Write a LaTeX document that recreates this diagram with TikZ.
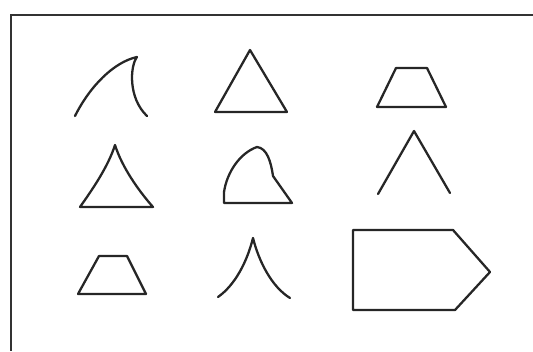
\documentclass[tikz,border=0pt]{standalone}
\usepackage{xcolor}
\usepackage{tikz}

\begin{document}
\begin{tikzpicture}[
  x=0.02cm, y=-0.02cm,
  frm/.style={line width=1.7pt, black!80},
  shp/.style={line width=1.3pt, black!85, line join=round, line cap=round}]
\useasboundingbox (0,0) rectangle (533,351);
% Frame (top and left edge only)
\draw[frm] (533,15) -- (11,15) -- (11,351);
% Row 1
\draw[shp] (75,116) .. controls (90,86) and (114,62) .. (137,57)
  .. controls (130,66) and (128,98) .. (147,116);
\draw[shp] (250,50) -- (215,112) -- (287,112) -- cycle;
\draw[shp] (396,68) -- (427,68) -- (446,107) -- (377,107) -- cycle;
% Row 2
\draw[shp] (80,207) .. controls (92,190) and (108,167) .. (115,145)
  .. controls (122,167) and (138,190) .. (153,207) -- cycle;
\draw[shp] (224,203) -- (224,192) .. controls (227,172) and (240,153) .. (257,147)
  .. controls (267,148) and (271,162) .. (273,176) -- (292,203) -- cycle;
\draw[shp] (378,194) -- (414,131) -- (450,193);
% Row 3
\draw[shp] (99,256) -- (127,256) -- (146,294) -- (78,294) -- cycle;
\draw[shp] (218,297) .. controls (235,285) and (247,262) .. (253,238)
  .. controls (259,262) and (272,287) .. (290,298);
\draw[shp] (353,230) -- (453,230) -- (490,272) -- (455,310) -- (353,310) -- cycle;
\end{tikzpicture}
\end{document}
